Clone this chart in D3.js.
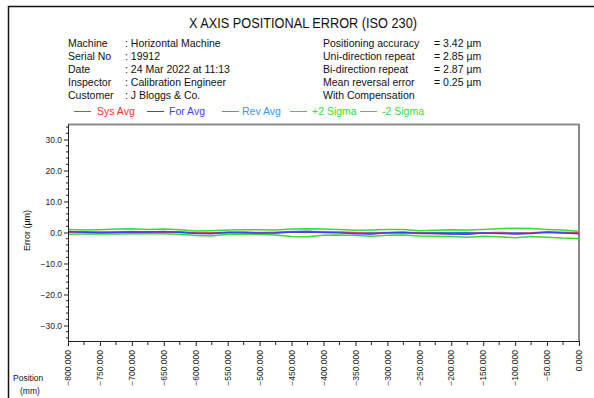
<!DOCTYPE html>
<html>
<head>
<meta charset="utf-8">
<script src="https://cdn.jsdelivr.net/npm/d3@7"></script>
<style>
  body { margin: 0; background: #fff; }
  svg { font-family: "Liberation Sans", Arial, sans-serif; }
</style>
</head>
<body>
<div id="chart"></div>
<script>
const positions = [-800, -775, -750, -725, -700, -675, -650, -625, -600, -575, -550, -525,
  -500, -475, -450, -425, -400, -375, -350, -325, -300, -275, -250, -225,
  -200, -175, -150, -125, -100, -75, -50, -25, 0];

const sysAvg = [0.2, 0.1, 0.0, 0.1, 0.2, 0.2, 0.2, 0.1, -0.2, -0.2, 0.0, 0.0,
  -0.1, -0.1, 0.2, 0.3, 0.1, 0.0, -0.2, -0.3, -0.1, 0.0, -0.2, -0.3,
  -0.4, -0.4, -0.2, -0.2, -0.3, -0.2, 0.1, -0.1, -0.2];
const forAvg = [0.3, 0.1, 0.0, 0.0, 0.2, 0.2, 0.3, 0.1, -0.3, -0.4, 0.0, 0.0,
  -0.2, -0.2, 0.2, 0.2, 0.0, -0.1, -0.4, -0.5, -0.1, 0.0, -0.3, -0.3,
  -0.5, -0.6, -0.2, -0.3, -0.5, -0.3, 0.1, -0.2, -0.4];
const revAvg = [0.1, 0.2, 0.1, 0.2, 0.3, 0.1, 0.1, 0.2, -0.1, -0.1, 0.1, 0.1,
  0.0, 0.1, 0.3, 0.4, 0.2, 0.2, 0.0, -0.1, 0.0, 0.1, -0.1, -0.2,
  -0.2, -0.2, -0.1, 0.0, -0.1, -0.1, 0.2, 0.1, -0.1];
const plus2Sigma = [1.0, 0.8, 0.9, 1.1, 1.2, 1.0, 1.1, 0.9, 0.5, 0.6, 0.8, 0.9,
  0.9, 0.8, 1.1, 1.2, 1.1, 1.0, 0.7, 0.8, 1.0, 1.0, 0.6, 0.7,
  0.9, 0.8, 1.0, 1.2, 1.4, 1.3, 1.0, 0.8, 0.4];
const minus2Sigma = [-0.6, -0.5, -0.4, -0.5, -0.4, -0.3, -0.4, -0.6, -1.0, -1.1, -0.6, -0.5,
  -0.6, -0.8, -1.3, -1.4, -0.9, -0.8, -1.0, -1.2, -0.9, -0.8, -1.1, -1.2,
  -1.3, -1.5, -1.2, -1.4, -1.7, -1.3, -1.5, -1.8, -1.9];

const seriesNames = ['Sys Avg', 'For Avg', 'Rev Avg', '+2 Sigma', '-2 Sigma'];
const seriesColors = ['#ff3030', '#4040ff', '#3399ff', '#33dd33', '#33dd33'];

const infoLabels = ['Machine', 'Serial No', 'Date', 'Inspector', 'Customer'];
const infoValues = [': Horizontal Machine', ': 19912', ': 24 Mar 2022 at 11:13', ': Calibration Engineer', ': J Bloggs & Co.'];
const statLabels = ['Positioning accuracy', 'Uni-direction repeat', 'Bi-direction repeat', 'Mean reversal error', 'With Compensation'];
const statValues = ['= 3.42 µm', '= 2.85 µm', '= 2.87 µm', '= 0.25 µm', ''];

const width = 594;
const height = 398;
const plot = {left: 68, right: 579, top: 124, bottom: 341};

const svg = d3.select('#chart').append('svg')
  .attr('width', width)
  .attr('height', height);

// outer frame (only left/top visible)
svg.append('path')
  .attr('d', `M8.5,${height} V6.5 H${width}`)
  .attr('fill', 'none')
  .attr('stroke', '#111')
  .attr('stroke-width', 1.5);

svg.append('text')
  .attr('x', 189).attr('y', 28)
  .attr('font-size', 14)
  .attr('textLength', 228)
  .attr('lengthAdjust', 'spacingAndGlyphs')
  .attr('fill', '#111')
  .text('X AXIS POSITIONAL ERROR (ISO 230)');

const info = svg.append('g').attr('font-size', 10.5).attr('fill', '#111');
infoLabels.forEach((t, i) => {
  const y = 46.5 + i * 13.1;
  info.append('text').attr('x', 68).attr('y', y).text(t);
  info.append('text').attr('x', 125).attr('y', y).text(infoValues[i]);
  info.append('text').attr('x', 323).attr('y', y).text(statLabels[i]);
  info.append('text').attr('x', 434).attr('y', y).text(statValues[i]);
});

// legend
const legendX = [74, 147, 222, 290, 360];
const legendTextX = [97, 169, 242, 312, 382];
const legend = svg.append('g').attr('font-size', 10.5);
seriesNames.forEach((n, i) => {
  legend.append('line')
    .attr('x1', legendX[i]).attr('x2', legendX[i] + 17)
    .attr('y1', 111.5).attr('y2', 111.5)
    .attr('stroke', seriesColors[i]);
  legend.append('text')
    .attr('x', legendTextX[i]).attr('y', 115)
    .attr('fill', seriesColors[i])
    .text(n);
});

const x = d3.scaleLinear().domain([-800, 0]).range([plot.left, plot.right]);
const y = d3.scaleLinear().domain([-35, 35]).range([plot.bottom, plot.top]);

// top and right border
svg.append('path')
  .attr('d', `M${plot.left},${plot.top + 0.5} H${plot.right} V${plot.bottom}`)
  .attr('fill', 'none')
  .attr('stroke', '#8a8a8a')
  .attr('stroke-width', 2);

// zero line
svg.append('line')
  .attr('x1', plot.left).attr('x2', plot.right)
  .attr('y1', y(0)).attr('y2', y(0))
  .attr('stroke', '#222')
  .attr('stroke-width', 1);

const allSeries = [sysAvg, forAvg, revAvg, plus2Sigma, minus2Sigma];
const line = d3.line()
  .x((d, i) => x(positions[i]))
  .y(d => y(d));

[3, 4, 2, 0, 1].forEach(k => {
  svg.append('path')
    .datum(allSeries[k])
    .attr('d', line)
    .attr('fill', 'none')
    .attr('stroke', seriesColors[k])
    .attr('stroke-width', 1.5);
});

// y axis
const yAxis = d3.axisLeft(y)
  .tickValues([-30, -20, -10, 0, 10, 20, 30])
  .tickFormat(d3.format('.1f'))
  .tickSize(4)
  .tickSizeOuter(0);
const gy = svg.append('g')
  .attr('transform', `translate(${plot.left},0)`)
  .call(yAxis);
gy.select('.domain').attr('stroke', '#222');
gy.selectAll('.tick line').attr('stroke', '#222');
gy.selectAll('.tick text')
  .attr('font-size', 8.5)
  .attr('font-family', '"Liberation Sans", Arial, sans-serif')
  .attr('fill', '#222')
  .attr('x', -6);

const yMinor = d3.range(-34, 35, 2).filter(v => v % 10 !== 0);
svg.append('g').selectAll('line')
  .data(yMinor)
  .enter()
  .append('line')
  .attr('x1', plot.left - 2).attr('x2', plot.left)
  .attr('y1', d => y(d)).attr('y2', d => y(d))
  .attr('stroke', '#222');

// x axis
const xAxis = d3.axisBottom(x)
  .tickValues(d3.range(-800, 1, 50))
  .tickFormat(d3.format('.3f'))
  .tickSize(5)
  .tickSizeOuter(0);
const gx = svg.append('g')
  .attr('transform', `translate(0,${plot.bottom})`)
  .call(xAxis);
gx.select('.domain').attr('stroke', '#222');
gx.selectAll('.tick line').attr('stroke', '#222');
gx.selectAll('.tick text')
  .attr('font-size', 8.5)
  .attr('font-family', '"Liberation Sans", Arial, sans-serif')
  .attr('fill', '#222')
  .attr('transform', 'rotate(-90)')
  .attr('text-anchor', 'end')
  .attr('x', -9)
  .attr('y', 0)
  .attr('dy', '0.32em');

svg.append('g').selectAll('line')
  .data(d3.range(-775, 0, 50))
  .enter()
  .append('line')
  .attr('x1', d => x(d)).attr('x2', d => x(d))
  .attr('y1', plot.bottom).attr('y2', plot.bottom + 4)
  .attr('stroke', '#222');

svg.append('text')
  .attr('transform', `translate(30,${y(0) - 2}) rotate(-90)`)
  .attr('text-anchor', 'middle')
  .attr('font-size', 9)
  .attr('fill', '#111')
  .text('Error (µm)');

svg.append('text')
  .attr('x', 13).attr('y', 381)
  .attr('font-size', 8.5)
  .attr('fill', '#111')
  .text('Position');
svg.append('text')
  .attr('x', 20).attr('y', 394)
  .attr('font-size', 8.5)
  .attr('fill', '#111')
  .text('(mm)');
</script>
</body>
</html>
